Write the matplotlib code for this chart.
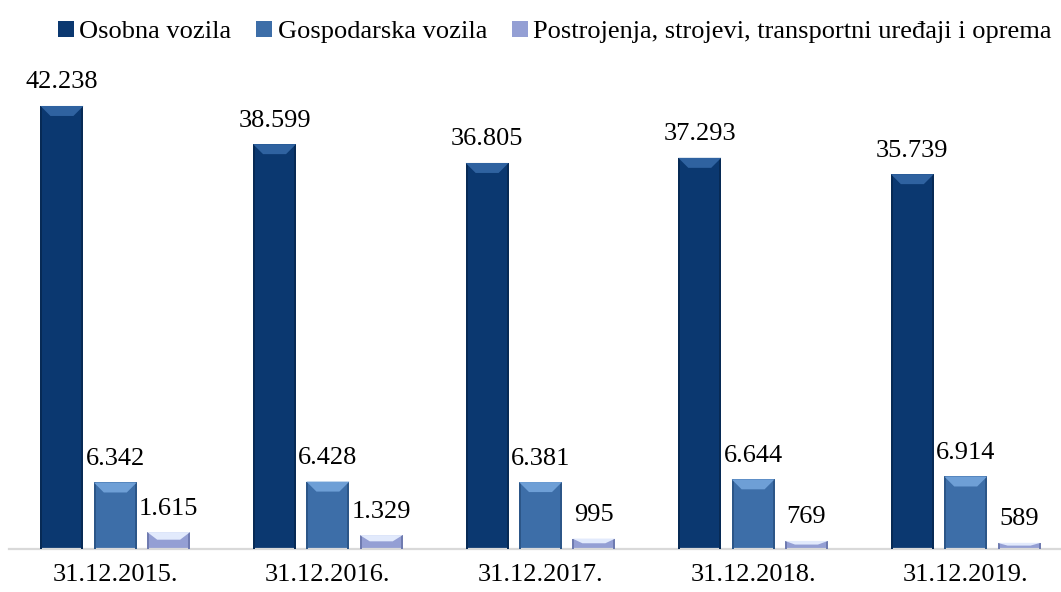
import matplotlib.pyplot as plt
from matplotlib.patches import Polygon, Rectangle
import numpy as np

# podaci
datumi = ['31.12.2015.', '31.12.2016.', '31.12.2017.', '31.12.2018.', '31.12.2019.']
osobna = [42238, 38599, 36805, 37293, 35739]
gospodarska = [6342, 6428, 6381, 6644, 6914]
postrojenja = [1615, 1329, 995, 769, 589]
serije = ['Osobna vozila', 'Gospodarska vozila', 'Postrojenja, strojevi, transportni uređaji i oprema']

boje = ['#0b3870', '#3d6ea8', '#949fd4']
boje_svijetle = ['#2f62a0', '#6e9fd6', '#e2eafc']
boje_tamne = ['#072a55', '#2c5688', '#6f7bb0']

plt.rcParams['font.family'] = ['Liberation Serif', 'DejaVu Serif']

fig = plt.figure(figsize=(10.61, 5.92), dpi=100)
ax = fig.add_axes([9 / 1061, 43 / 592, 1063 / 1061, 472 / 592])

x = np.arange(len(datumi))
sirina = 0.202
korak = 0.251
ax.set_xlim(-0.5, 4.5)
ax.set_ylim(0, 45000)

# pretvorba piksela u jedinice podataka
px_x = 5.0 / 1063
px_y = 45000 / 472.0


def bevel(bar, i):
    x0 = bar.get_x()
    w = bar.get_width()
    h = bar.get_height()
    d = min(10 * px_y, h * 0.45)
    dx = 10 * px_x
    # tamni rubovi
    ax.add_patch(Rectangle((x0, 0), 2 * px_x, h, color=boje_tamne[i], lw=0, zorder=3))
    ax.add_patch(Rectangle((x0 + w - 2 * px_x, 0), 2 * px_x, h, color=boje_tamne[i], lw=0, zorder=3))
    # svijetli gornji dio
    poly = Polygon([(x0, h), (x0 + w, h), (x0 + w - dx, h - d), (x0 + dx, h - d)],
                   closed=True, color=boje_svijetle[i], lw=0, zorder=4)
    ax.add_patch(poly)


for i, vrijednosti in enumerate([osobna, gospodarska, postrojenja]):
    bars = ax.bar(x + (i - 1) * korak, vrijednosti, sirina, color=boje[i],
                  label=serije[i], zorder=2, edgecolor='none')
    for b, v in zip(bars, vrijednosti):
        bevel(b, i)
        oznaka = f'{v:,}'.replace(',', '.')
        ax.annotate(oznaka, (b.get_x() + b.get_width() / 2, v), xytext=(0, 9),
                    textcoords='offset points', ha='center', va='bottom',
                    fontsize=19, color='black', annotation_clip=False)

ax.set_xticks(x)
ax.set_xticklabels(datumi, fontsize=19)
ax.tick_params(axis='x', length=0, pad=11)
ax.set_yticks([])
for s in ['top', 'right', 'left']:
    ax.spines[s].set_visible(False)
ax.spines['bottom'].set_color('#d9d9d9')
ax.spines['bottom'].set_linewidth(1.6)

fig.legend(loc='center', bbox_to_anchor=(0.523, 0.946), ncol=3, frameon=False,
           fontsize=19, handlelength=0.6, handleheight=0.6, handletextpad=0.2,
           columnspacing=0.95, borderaxespad=0)

fig.savefig('out.png', dpi=100)
